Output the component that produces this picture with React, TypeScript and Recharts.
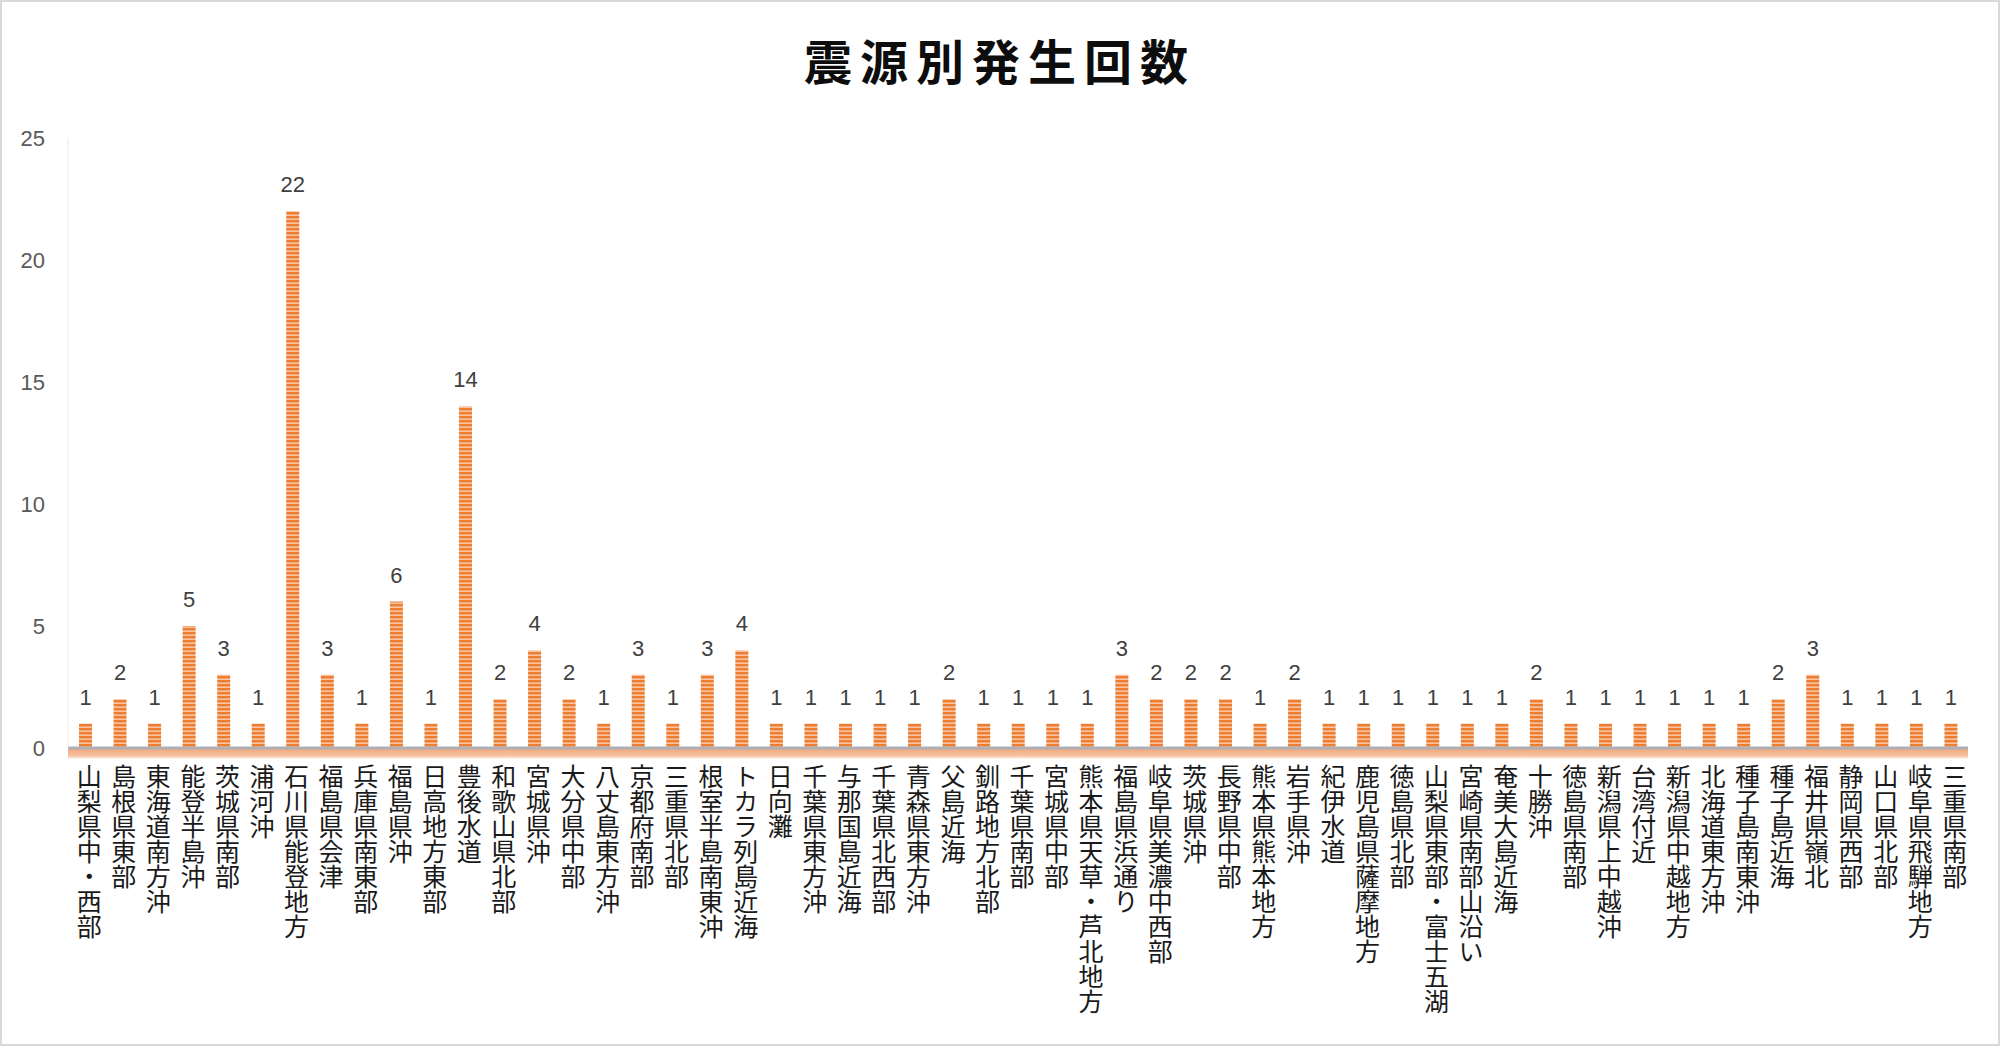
import React from 'react';
import { BarChart, Bar, XAxis, YAxis, LabelList, ReferenceArea } from 'recharts';

const title = '震源別発生回数';

const categories = [
  '山梨県中・西部', '島根県東部', '東海道南方沖', '能登半島沖', '茨城県南部', '浦河沖',
  '石川県能登地方', '福島県会津', '兵庫県南東部', '福島県沖', '日高地方東部', '豊後水道',
  '和歌山県北部', '宮城県沖', '大分県中部', '八丈島東方沖', '京都府南部', '三重県北部',
  '根室半島南東沖', 'トカラ列島近海', '日向灘', '千葉県東方沖', '与那国島近海', '千葉県北西部',
  '青森県東方沖', '父島近海', '釧路地方北部', '千葉県南部', '宮城県中部', '熊本県天草・芦北地方',
  '福島県浜通り', '岐阜県美濃中西部', '茨城県沖', '長野県中部', '熊本県熊本地方', '岩手県沖',
  '紀伊水道', '鹿児島県薩摩地方', '徳島県北部', '山梨県東部・富士五湖', '宮崎県南部山沿い', '奄美大島近海',
  '十勝沖', '徳島県南部', '新潟県上中越沖', '台湾付近', '新潟県中越地方', '北海道東方沖',
  '種子島南東沖', '種子島近海', '福井県嶺北', '静岡県西部', '山口県北部', '岐阜県飛騨地方',
  '三重県南部',
];

const counts = [
  1, 2, 1, 5, 3, 1,
  22, 3, 1, 6, 1, 14,
  2, 4, 2, 1, 3, 1,
  3, 4, 1, 1, 1, 1,
  1, 2, 1, 1, 1, 1,
  3, 2, 2, 2, 1, 2,
  1, 1, 1, 1, 1, 1,
  2, 1, 1, 1, 1, 1,
  1, 2, 3, 1, 1, 1,
  1,
];

const yTicks = [0, 5, 10, 15, 20, 25];

const data = categories.map((name, i) => ({ name, count: counts[i] }));

const JP_FONT = "'Noto Sans CJK JP', 'Noto Sans', sans-serif";
const NUM_FONT = "'Liberation Sans', Arial, sans-serif";

const VerticalTick = (props: any) => {
  const { x, y, payload } = props;
  return (
    <text
      x={x + 4}
      y={y + 16}
      fontSize={25}
      fill="#1a1a1a"
      fontFamily={JP_FONT}
      textAnchor="start"
      style={{ writingMode: 'vertical-rl', textOrientation: 'upright' } as any}
    >
      {String(payload.value)}
    </text>
  );
};

export default function App() {
  return (
    <div
      style={{
        position: 'absolute',
        left: 0,
        top: 0,
        width: 2000,
        height: 1046,
        background: '#ffffff',
        overflow: 'hidden',
      }}
    >
      <BarChart
        width={2000}
        height={1046}
        data={data}
        margin={{ top: 138, right: 32, bottom: 8, left: 0 }}
      >
        <defs>
          <pattern id="stripes" x="0" y="0" width="14" height="4" patternUnits="userSpaceOnUse">
            <rect x="0" y="0" width="14" height="4" fill="#F7C3A0" />
            <rect x="0" y="0" width="14" height="2.4" fill="#ED7D31" />
          </pattern>
          <linearGradient id="band" x1="0" y1="0" x2="0" y2="1">
            <stop offset="0%" stopColor="#F2A679" />
            <stop offset="70%" stopColor="#F6BE9C" />
            <stop offset="100%" stopColor="#FBE3D4" />
          </linearGradient>
        </defs>
        <ReferenceArea
          y1={0}
          y2={-0.42}
          ifOverflow="visible"
          fill="url(#band)"
          fillOpacity={1}
          stroke="none"
        />
        <XAxis
          dataKey="name"
          interval={0}
          height={290}
          tickLine={false}
          tickSize={0}
          tickMargin={0}
          axisLine={{ stroke: '#AEB0B5', strokeWidth: 3 }}
          tick={<VerticalTick />}
        />
        <YAxis
          domain={[0, 25]}
          ticks={yTicks}
          width={68}
          tickLine={false}
          tickSize={0}
          tickMargin={23}
          axisLine={{ stroke: '#EEE9E4', strokeWidth: 1 }}
          tick={{ fontSize: 22, fill: '#595959', fontFamily: NUM_FONT }}
        />
        <Bar dataKey="count" barSize={13} fill="url(#stripes)" isAnimationActive={false}>
          <LabelList
            dataKey="count"
            position="top"
            offset={19}
            fontSize={22}
            fill="#404040"
            fontFamily={NUM_FONT}
          />
        </Bar>
      </BarChart>
      <div
        style={{
          position: 'absolute',
          left: 0,
          top: 35,
          width: 2000,
          textAlign: 'center',
          fontFamily: JP_FONT,
          fontWeight: 700,
          fontSize: 48,
          lineHeight: '48px',
          letterSpacing: 8,
          color: '#0d0d0d',
          boxSizing: 'border-box',
        }}
      >
        {title}
      </div>
      <div
        style={{
          position: 'absolute',
          left: 0,
          top: 0,
          width: 2000,
          height: 1046,
          border: '2px solid #D9D9D9',
          boxSizing: 'border-box',
          pointerEvents: 'none',
        }}
      />
    </div>
  );
}
